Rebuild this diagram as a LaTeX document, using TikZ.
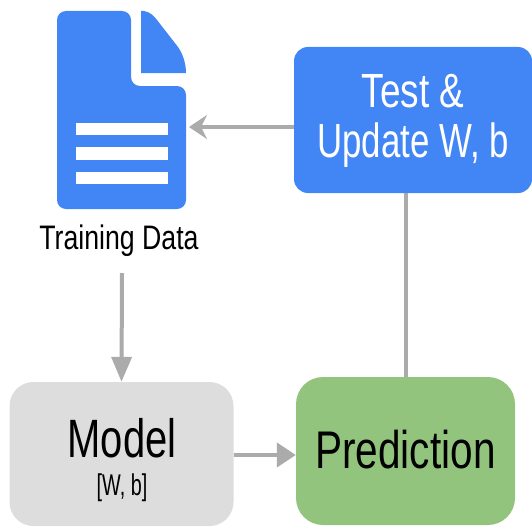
\documentclass[tikz,border=0pt]{standalone}
\usepackage{fontspec}
\usepackage{graphicx}
\setmainfont{Liberation Sans}
\usetikzlibrary{arrows.meta}
\definecolor{bluebox}{HTML}{4285F4}
\definecolor{greenbox}{HTML}{93C47D}
\definecolor{greybox}{HTML}{DDDDDD}
\definecolor{linegrey}{HTML}{ABABAB}
\newcommand{\narrow}[3]{\scalebox{#1}[1]{\fontsize{#2}{#2}\selectfont #3}}
\tikzset{x=1pt,y=-1pt,
 box/.style={rounded corners=24pt,minimum width=#1,inner sep=0pt,align=center},
 conn/.style={draw=linegrey,line width=4pt},
 arrowc/.style={conn,-{Triangle[length=19pt,width=24pt]}},
 arrowd/.style={conn,-{Triangle[length=25pt,width=20pt]}},
 arrowstealth/.style={conn,-{Stealth[length=18pt,width=24pt,inset=6pt]}},
 lab/.style={inner sep=0pt,align=center}}
\begin{document}
\begin{tikzpicture}
\useasboundingbox (0,0) rectangle (532,527);
% document icon
\fill[bluebox,rounded corners=9pt] (131,11) -- (57,11) -- (57,209) -- (186,209) -- (186,86) -- (131,86) -- cycle;
\fill[bluebox] (141,11) -- (144,11) .. controls (150,12) and (154,16) .. (157,20) -- (178,47) .. controls (183,54) and (186,64) .. (186,73) -- (141,73) -- cycle;
\fill[white] (76,123) rectangle (168,135);
\fill[white] (76,147) rectangle (168,160);
\fill[white] (76,172) rectangle (168,184);
\node[lab] (train) at (119,241) {\narrow{.785}{34}{Training Data}};
\node[box=238pt,fill=bluebox,rounded corners=14pt,minimum height=146pt] (test) at (413,120) {};
\node[lab,text=white] (testa) at (413,91) {\narrow{.77}{48}{Test \&}};
\node[lab,text=white] (testb) at (413,145) {\narrow{.725}{48}{Update W, b}};
\node[box=224pt,fill=greybox,minimum height=144pt] (model) at (121.5,454) {};
\node[lab] (mname) at (122,438) {\narrow{.74}{54}{Model}};
\node[lab] (mparam) at (122,488) {\narrow{.66}{30}{[W, b]}};
\node[box=219pt,fill=greenbox,rounded corners=27pt,minimum height=148pt] (pred) at (405.5,451) {};
\node[lab] (pname) at (405.5,450) {\narrow{.765}{53}{Prediction}};
\coordinate (docr) at (189,127);
\coordinate (traindown) at (122,273);
\draw[arrowstealth] (test.west |- docr) -- (docr);
\draw[arrowd] (traindown) -- (model.north);
\draw[arrowc] (model.east |- 0,455) -- (pred.west |- 0,455);
\draw[conn] (test.south -| pred.north) -- (pred.north);
\end{tikzpicture}
\end{document}
